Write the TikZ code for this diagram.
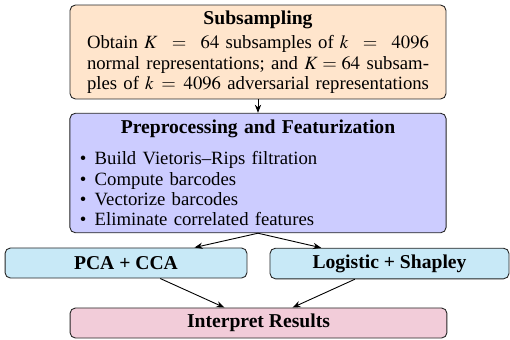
\documentclass[tikz,border=0pt]{standalone}
\usepackage{mathptmx}
\usepackage{fontspec}
\setmainfont{Liberation Serif}
\usetikzlibrary{arrows.meta}
\setlength{\parindent}{0pt}
\definecolor{cOrange}{RGB}{255,229,204}
\definecolor{cLav}{RGB}{204,204,255}
\definecolor{cSky}{RGB}{200,233,247}
\definecolor{cPink}{RGB}{242,204,217}
\newcommand{\bulletitem}[1]{\hspace*{3pt}\makebox[8.3pt][l]{\textbullet}#1\par}
\newcommand{\fullline}[1]{\makebox[\linewidth][s]{#1}\par}
\newcommand{\hd}{\fontsize{10.9}{11.3}\selectfont\bfseries}
\begin{document}
\begin{tikzpicture}[x=0.5556pt,y=-0.5556pt,
  box/.style={draw=black!85,line width=0.5pt,rounded corners=3pt,font=\fontsize{10.4}{11.3}\selectfont},
  arr/.style={-{Stealth[length=4.5pt,width=3.5pt]},line width=0.5pt}]
\useasboundingbox (0,0) rectangle (510,339);
\node[box,fill=cOrange,minimum width=208.9pt,minimum height=52.2pt,text width=190pt,inner xsep=8.5pt,inner ysep=1pt] (sub) at (258,52)
 {\vspace*{2.5pt}{\centering\hd Subsampling\par}
  \fullline{Obtain $K=64$ subsamples of $k=4096$}
  \fullline{normal representations; and $K=64$ subsam-}
  \fullline{ples of $k=4096$ adversarial representations}};
\node[box,fill=cLav,minimum width=208.9pt,minimum height=66.4pt,text width=204pt,inner xsep=2.5pt,inner ysep=1pt] (pre) at (258,173)
 {\vspace*{2.5pt}{\centering\hd Preprocessing and Featurization\par}\vspace{3.7pt}
  \bulletitem{Build Vietoris--Rips filtration}
  \bulletitem{Compute barcodes}
  \bulletitem{Vectorize barcodes}
  \bulletitem{Eliminate correlated features}};
\node[box,fill=cSky,minimum width=134.4pt,minimum height=16.7pt] (pca) at (126,263) {\hd PCA + CCA};
\node[box,fill=cSky,minimum width=132.8pt,minimum height=17.0pt] (log) at (389.5,263.5) {\hd Logistic + Shapley};
\node[box,fill=cPink,minimum width=209.4pt,minimum height=16.7pt] (res) at (258.5,323) {\hd Interpret Results};
\draw[arr] (sub) -- (pre);
\draw[arr] (pre.south) -- (pca);
\draw[arr] (pre.south) -- (log);
\draw[arr] (pca) -- (res);
\draw[arr] (log) -- (res);
\end{tikzpicture}
\end{document}
